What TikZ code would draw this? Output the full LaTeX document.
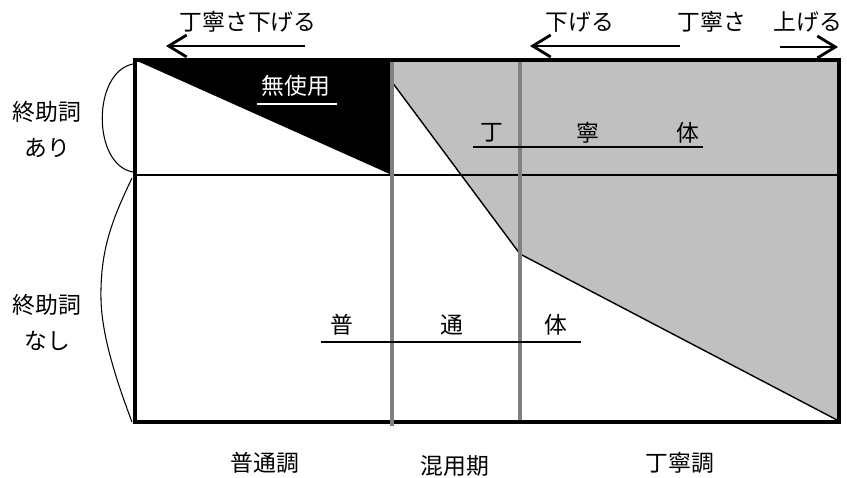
\documentclass[tikz,border=0pt]{standalone}
\usepackage{fontspec}
\setmainfont{Noto Sans CJK JP}
\usetikzlibrary{arrows.meta}
\definecolor{fillgray}{HTML}{C0C0C0}
\definecolor{linegray}{HTML}{808080}
\tikzset{
  jp/.style={font=\fontsize{13pt}{15pt}\selectfont, inner sep=0pt, anchor=center},
  frame/.style={line width=2.8pt},
  period/.style={draw=linegray, line width=2.8pt},
  thinline/.style={line width=0.8pt},
  brace/.style={line width=0.6pt},
  bigarrow/.style={line width=1.6pt, -{Straight Barb[length=0.36cm, width=0.44cm, line width=1.6pt]}},
}
\begin{document}
\begin{tikzpicture}[x=0.02cm, y=-0.02cm]
\useasboundingbox (0,0) rectangle (847,477);
% regions
\fill[fillgray] (392,82) -- (520,254) -- (837,420) -- (839,60) -- (392,60) -- cycle;
\fill[black] (135,60) -- (392,60) -- (392,175) -- cycle;
\draw[thinline] (392,82) -- (520,254) -- (837,420);
\draw[thinline] (135,175) -- (839,175);
% frame
\draw[frame] (135,60) rectangle (839,422);
% period lines
\draw[period] (392,62) -- (392,426);
\draw[period] (520,62) -- (520,420);
% braces on the left
\draw[brace] (133,64) .. controls (92,72) and (92,165) .. (133,172);
\draw[brace] (132,178) .. controls (112,220) and (100,250) .. (101,300) .. controls (102,340) and (120,390) .. (132,422);
% labels left
\node[jp] (ari1) at (47,112) {終助詞};
\node[jp] (ari2) at (47,148) {あり};
\node[jp] (nashi1) at (47,305) {終助詞};
\node[jp] (nashi2) at (47,341) {なし};
% unused
\node[jp, text=white] (muse) at (296,86) {無使用};
\draw[white, line width=1pt] (257,104) -- (337,104);
% teinei-tai
\node[jp] (t1) at (492,133) {丁};
\node[jp] (t2) at (588,133) {寧};
\node[jp] (t3) at (688,133) {体};
\draw[thinline] (473,147) -- (703,147);
% futsuu-tai
\node[jp] (f1) at (342,325) {普};
\node[jp] (f2) at (452,325) {通};
\node[jp] (f3) at (556,325) {体};
\draw[thinline] (321,342) -- (581,342);
% bottom labels
\node[jp] (b1) at (265,463) {普通調};
\node[jp] (b2) at (455,466) {混用期};
\node[jp] (b3) at (680,463) {丁寧調};
% top labels and arrows
\node[jp] (l1) at (248,22) {丁寧さ下げる};
\node[jp] (l2) at (580,22) {下げる};
\node[jp] (l3) at (712,22) {丁寧さ};
\node[jp] (l4) at (808,22) {上げる};
\coordinate (a1s) at (305,46);
\coordinate (a1e) at (166,46);
\coordinate (a2s) at (680,46);
\coordinate (a2e) at (530,46);
\coordinate (a3s) at (780,47);
\coordinate (a3e) at (838,47);
\draw[bigarrow] (a1s) -- (a1e);
\draw[bigarrow] (a2s) -- (a2e);
\draw[bigarrow] (a3s) -- (a3e);
\end{tikzpicture}
\end{document}
